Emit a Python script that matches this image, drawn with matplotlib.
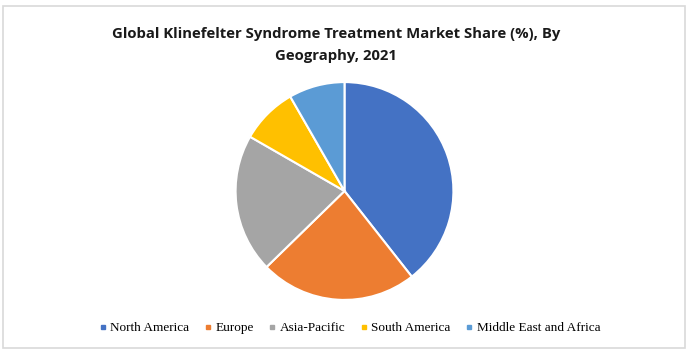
import matplotlib.pyplot as plt
from matplotlib.lines import Line2D
from matplotlib.patches import Rectangle

regions = ['North America', 'Europe', 'Asia-Pacific', 'South America', 'Middle East and Africa']
shares = [39.4, 23.3, 20.6, 8.4, 8.3]
colors = ['#4472C4', '#ED7D31', '#A5A5A5', '#FFC000', '#5B9BD5']

fig = plt.figure(figsize=(6.93, 3.51), dpi=100)

# light grey frame round the chart
fig.patches.append(Rectangle((3 / 693, 3 / 351), 682 / 693, 342 / 351, transform=fig.transFigure,
                             fill=False, edgecolor='#D9D9D9', linewidth=1.2))

fig.text(0.485, 0.872, 'Global Klinefelter Syndrome Treatment Market Share (%), By\nGeography, 2021',
         ha='center', va='center', fontsize=10.7, fontweight='bold', family='Open Sans',
         linespacing=1.75, color='#1a1a1a')

ax = fig.add_axes([(344.5 - 110) / 693, (351 - 301) / 351, 220 / 693, 220 / 351])
ax.pie(shares, colors=colors, startangle=90, counterclock=False,
       wedgeprops=dict(edgecolor='white', linewidth=1.5))
ax.set_xlim(-1.01, 1.01)
ax.set_ylim(-1.01, 1.01)
ax.set_aspect('equal')
ax.axis('off')

handles = [Line2D([], [], marker='s', linestyle='none', markersize=3.5, color=c) for c in colors]
fig.legend(handles, regions, loc='center', bbox_to_anchor=(0.505, 0.065), ncol=5, frameon=False,
           prop={'family': 'Liberation Serif', 'size': 9.5}, handlelength=0.5, handletextpad=0.3,
           columnspacing=1.17)

fig.savefig('out.png', dpi=100)
